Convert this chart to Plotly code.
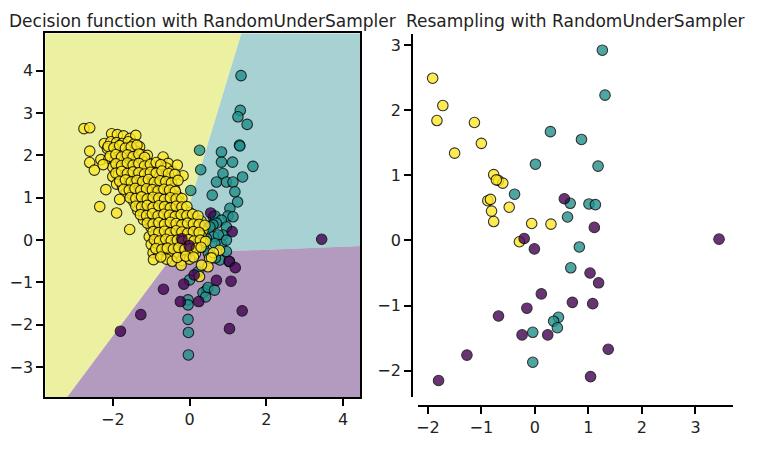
import plotly.graph_objects as go

# ---------------- data ----------------
# Left panel: original (imbalanced) data
yellow_x = [-2.75, -2.60,
            -2.03, -1.88, -1.72, -1.55, -1.40,
            -2.22, -2.05, -1.90, -1.75, -1.60, -1.45, -1.30,
            -2.60, -2.14, -2.00, -1.85, -1.70, -1.55, -1.40, -1.25, -1.10,
            -2.31, -2.60, -2.10, -1.95, -1.80, -1.65, -1.50, -1.35, -1.20, -1.05, -0.69, -0.56,
            -2.48, -2.00, -1.85, -1.70, -1.55, -1.40, -1.25, -1.10, -0.95, -0.80, -0.60, -0.45, -0.32,
            -2.00, -1.85, -1.70, -1.55, -1.40, -1.25, -1.10, -0.95, -0.80, -0.65, -0.50, -0.17,
            -1.90, -1.75, -1.60, -1.45, -1.30, -1.15, -1.00, -0.85, -0.70, -0.55, -0.40,
            -2.18, -1.65, -1.50, -1.35, -1.20, -1.05, -0.90, -0.75, -0.60, -0.45, -0.30,
            -1.82, -1.45, -1.30, -1.15, -1.00, -0.85, -0.70, -0.55, -0.40, -0.25,
            -2.34, -1.90, -1.35, -1.20, -1.05, -0.90, -0.75, -0.60, -0.45, -0.30, -0.15, 0.00,
            -1.20, -1.05, -0.90, -0.75, -0.60, -0.45, -0.30, -0.15, 0.00, 0.15, 0.30,
            -1.56, -1.00, -0.85, -0.70, -0.55, -0.40, -0.25, -0.10, 0.05, 0.20, 0.35,
            -1.05, -0.90, -0.75, -0.60, -0.45, -0.30, -0.15, 0.00, 0.15, 0.30,
            -1.00, -0.85, -0.70, -0.55, -0.40, -0.25, -0.10, 0.05, 0.20, 0.35,
            -0.95, -0.80, -0.60, -0.45, -0.30, -0.15, 0.00, 0.15, 0.52, 0.78, 0.62,
            -0.94, -0.60, -0.45, -0.20, 0.00, 0.57,
            -0.22, 0.48, 0.31,
            0.26,
            # denser core (second layer)
            -2.12, -1.97, -1.82, -1.67, -1.52, -1.37,
            -2.07, -1.92, -1.77, -1.62, -1.47, -1.32, -1.17,
            -2.25, -1.92, -1.77, -1.62, -1.47, -1.32, -1.17, -1.02, -0.87, -0.75,
            -1.92, -1.77, -1.62, -1.47, -1.32, -1.17, -1.02, -0.87, -0.72, -0.55, -0.38,
            -1.82, -1.67, -1.52, -1.37, -1.22, -1.07, -0.92, -0.77, -0.62, -0.47, -0.30,
            -1.72, -1.57, -1.42, -1.27, -1.12, -0.97, -0.82, -0.67, -0.52, -0.37,
            -1.55, -1.40, -1.25, -1.10, -0.95, -0.80, -0.65, -0.50, -0.35, -0.20,
            -1.40, -1.25, -1.10, -0.95, -0.80, -0.65, -0.50, -0.35, -0.20, -0.07,
            -1.28, -1.12, -0.97, -0.82, -0.67, -0.52, -0.37, -0.22, -0.07, 0.08, 0.22,
            -1.10, -0.95, -0.80, -0.65, -0.50, -0.35, -0.20, -0.05, 0.10, 0.25, 0.40,
            -0.95, -0.80, -0.65, -0.50, -0.35, -0.20, -0.05, 0.10, 0.25,
            -0.92, -0.78, -0.62, -0.48, -0.32, -0.18, -0.02, 0.12, 0.28, 0.42,
            -0.88, -0.72, -0.58, -0.42, -0.28, -0.12, 0.02, 0.18, 0.30,
            -0.75, -0.32, -0.10, 0.10]
yellow_y = [2.63, 2.65,
            2.51, 2.49, 2.46, 2.40, 2.47,
            2.28, 2.32, 2.30, 2.28, 2.32, 2.26, 2.20,
            2.10, 2.16, 2.10, 2.05, 2.12, 2.08, 2.10, 2.02, 2.00,
            1.90, 1.83, 1.92, 1.88, 1.90, 1.85, 1.92, 1.88, 1.85, 1.80, 1.96, 1.81,
            1.65, 1.72, 1.68, 1.70, 1.65, 1.72, 1.68, 1.62, 1.70, 1.65, 1.70, 1.62, 1.77,
            1.50, 1.55, 1.48, 1.52, 1.45, 1.50, 1.45, 1.52, 1.48, 1.50, 1.45, 1.52,
            1.32, 1.28, 1.35, 1.30, 1.25, 1.32, 1.28, 1.30, 1.25, 1.30, 1.22,
            1.19, 1.12, 1.08, 1.12, 1.05, 1.12, 1.08, 1.10, 1.05, 1.08, 1.02,
            0.96, 0.90, 0.85, 0.92, 0.88, 0.92, 0.85, 0.90, 0.85, 0.88,
            0.79, 0.64, 0.70, 0.65, 0.72, 0.68, 0.72, 0.65, 0.70, 0.66, 0.72, 0.65,
            0.48, 0.50, 0.45, 0.52, 0.48, 0.50, 0.45, 0.52, 0.48, 0.50, 0.45,
            0.25, 0.30, 0.25, 0.32, 0.28, 0.30, 0.25, 0.32, 0.28, 0.30, 0.22,
            0.08, 0.12, 0.05, 0.10, 0.05, 0.12, 0.08, 0.12, 0.05, 0.10,
            -0.10, -0.08, -0.15, -0.10, -0.12, -0.08, -0.15, -0.10, -0.08, -0.05,
            -0.30, -0.35, -0.28, -0.32, -0.30, -0.35, -0.28, -0.32, -0.43, -0.24, -0.30,
            -0.46, -0.45, -0.50, -0.48, -0.45, -0.42,
            -0.59, -0.63, -0.59,
            -0.86,
            2.21, 2.18, 2.23, 2.17, 2.20, 2.24,
            1.98, 2.02, 1.96, 2.01, 1.97, 2.03, 1.95,
            1.78, 1.80, 1.76, 1.82, 1.77, 1.81, 1.75, 1.79, 1.83, 1.78,
            1.58, 1.62, 1.57, 1.61, 1.59, 1.56, 1.60, 1.58, 1.63, 1.57, 1.55,
            1.39, 1.42, 1.37, 1.41, 1.38, 1.43, 1.36, 1.40, 1.38, 1.35, 1.41,
            1.20, 1.18, 1.22, 1.17, 1.21, 1.19, 1.16, 1.20, 1.18, 1.15,
            1.00, 0.98, 1.02, 0.97, 1.01, 0.99, 0.96, 1.00, 0.97, 0.98,
            0.80, 0.78, 0.82, 0.77, 0.81, 0.79, 0.76, 0.80, 0.78, 0.79,
            0.60, 0.58, 0.62, 0.57, 0.61, 0.59, 0.56, 0.60, 0.58, 0.61, 0.57,
            0.40, 0.38, 0.41, 0.37, 0.42, 0.39, 0.36, 0.40, 0.38, 0.37, 0.35,
            0.20, 0.18, 0.21, 0.17, 0.22, 0.19, 0.16, 0.20, 0.18,
            0.01, -0.02, 0.02, -0.01, 0.00, -0.03, 0.01, -0.02, 0.00, -0.03,
            -0.20, -0.22, -0.19, -0.21, -0.18, -0.22, -0.20, -0.19, -0.17,
            -0.40, -0.41, -0.38, -0.40]

teal_x = [1.34, 1.32, 1.26, 1.50, 1.30, 1.31, 0.26, 0.83, 0.83, 1.12, 1.65, 0.29,
          0.87, 1.38, 0.70, 0.96, 1.13, 0.03, 1.18, 0.59, 1.25, 1.05, -0.35, 1.00,
          1.13, 0.62, 0.66, 0.83, 0.57, 0.70, 0.61, 0.96, 0.36, 0.87, 0.36, 0.62,
          0.31, 0.53, 0.23, 0.44, 0.75, 0.83, 0.36, 0.66, 0.96, 0.49, 0.96, 0.79,
          1.04, 0.67, 0.22, 0.00, 0.44, 0.35, 0.42, 0.48, 0.65, -0.04, -0.04, -0.04,
          -0.03, -0.03]
teal_y = [3.88, 3.06, 2.91, 2.73, 2.24, 2.22, 2.12, 2.08, 1.84, 1.84, 1.74, 1.66,
          1.57, 1.49, 1.37, 1.37, 1.37, 1.17, 1.14, 1.06, 0.90, 0.75, 0.71, 0.57,
          0.55, 0.55, 0.57, 0.47, 0.35, 0.40, 0.36, 0.31, 0.35, 0.12, 0.08, 0.08,
          0.24, 0.31, 0.04, 0.04, 0.12, -0.10, -0.16, -0.08, 0.00, -0.31, -0.27, -0.47,
          -0.51, -0.42, -0.75, -0.94, -1.18, -1.24, -1.34, -1.12, -1.18, -1.41, -1.53, -1.87,
          -2.18, -2.71]

# minority class (kept entirely by the under-sampler, same in both panels)
purple_x = [0.55, 1.11, 3.44, -0.20, -0.01, 1.03, 1.19, 0.12, 0.70, 1.08, -0.15,
            -0.68, -0.24, 0.24, 1.37, -1.27, 1.04, -1.80]
purple_y = [0.64, 0.20, 0.02, 0.03, -0.13, -0.50, -0.65, -0.82, -0.95, -0.97, -1.04,
            -1.16, -1.45, -1.45, -1.67, -1.76, -2.09, -2.15]

# Right panel: resampled data
res_yellow_x = [-1.91, -1.72, -1.83, -1.13, -1.00, -1.50, -0.77, -0.68, -0.60, -0.72,
                -0.88, -0.83, -0.81, -0.77, -0.48, -0.06, 0.30, -0.29]
res_yellow_y = [2.49, 2.07, 1.84, 1.81, 1.49, 1.34, 1.01, 0.92, 0.88, 0.93,
                0.61, 0.63, 0.45, 0.29, 0.51, 0.26, 0.25, -0.02]
res_teal_x = [1.26, 1.31, 0.29, 0.87, 0.01, 1.18, -0.38, 0.66, 1.01, 1.13, 0.61, 0.83,
              0.67, 0.44, 0.35, 0.42, -0.04, -0.04]
res_teal_y = [2.92, 2.23, 1.67, 1.55, 1.17, 1.14, 0.71, 0.57, 0.56, 0.55, 0.36, -0.10,
              -0.42, -1.18, -1.24, -1.34, -1.41, -1.87]

# Decision boundary of the classifier
junction = (-0.39, -0.31)
bnd_yellow_teal_top = (1.35, 4.88)         # meets top edge
bnd_yellow_purple_bottom = (-3.19, -3.71)  # meets bottom edge
bnd_purple_teal_right = (4.44, -0.14)      # meets right edge

left_xrange = [-3.76, 4.44]
left_yrange = [-3.71, 4.88]
right_xrange = [-2.18, 3.71]
right_yrange = [-2.40, 3.17]

class_colors = ["#440154", "#21918c", "#fde725"]
titles = ["Decision function with RandomUnderSampler", "Resampling with RandomUnderSampler"]

# ---------------- figure ----------------
fig = go.Figure()
W, H = 769, 453

x0, x1 = left_xrange
y0, y1 = left_yrange
jx, jy = junction
regions = [
    ([x0, bnd_yellow_teal_top[0], jx, bnd_yellow_purple_bottom[0], x0],
     [y1, y1, jy, y0, y0], "rgba(230,236,130,0.75)"),
    ([bnd_yellow_teal_top[0], x1, x1, jx],
     [y1, y1, bnd_purple_teal_right[1], jy], "rgba(144,196,199,0.78)"),
    ([jx, x1, x1, bnd_yellow_purple_bottom[0]],
     [jy, bnd_purple_teal_right[1], y0, y0], "rgba(160,130,176,0.80)"),
]
for rx, ry, col in regions:
    fig.add_trace(go.Scatter(x=rx, y=ry, fill="toself", fillcolor=col, mode="lines",
                             line=dict(width=0), hoverinfo="skip", showlegend=False,
                             xaxis="x", yaxis="y"))

def pts(xs, ys, color, ax, ay):
    fig.add_trace(go.Scatter(x=xs, y=ys, mode="markers", showlegend=False,
                             marker=dict(size=10.5, color=color, opacity=0.8,
                                         line=dict(color="black", width=1.1)),
                             xaxis=ax, yaxis=ay))

pts(teal_x, teal_y, class_colors[1], "x", "y")
pts(yellow_x, yellow_y, class_colors[2], "x", "y")
pts(purple_x, purple_y, class_colors[0], "x", "y")

pts(res_yellow_x, res_yellow_y, class_colors[2], "x2", "y2")
pts(res_teal_x, res_teal_y, class_colors[1], "x2", "y2")
pts(purple_x, purple_y, class_colors[0], "x2", "y2")

tickfont = dict(family="DejaVu Sans", size=16, color="#222")
common = dict(showgrid=False, zeroline=False, ticks="outside", ticklen=7, tickwidth=1.6,
              tickcolor="black", showline=True, linecolor="black", linewidth=1.6,
              tickfont=tickfont)

L = (43.3, 359.0, 33.3, 397.3)
R = (417.3, 733.4, 33.9, 396.8)

fig.update_layout(
    width=W, height=H, margin=dict(l=0, r=0, t=0, b=0),
    paper_bgcolor="white", plot_bgcolor="rgba(0,0,0,0)",
    xaxis=dict(domain=[L[0] / W, L[1] / W], range=left_xrange, anchor="y", mirror=True,
               tickvals=[-2, 0, 2, 4], ticktext=["−2", "0", "2", "4"], **common),
    yaxis=dict(domain=[1 - L[3] / H, 1 - L[2] / H], range=left_yrange, anchor="x", mirror=True,
               tickvals=[-3, -2, -1, 0, 1, 2, 3, 4],
               ticktext=["−3", "−2", "−1", "0", "1", "2", "3", "4"], **common),
    xaxis2=dict(domain=[R[0] / W, R[1] / W], range=right_xrange, anchor="free",
                position=1 - 406 / H, tickvals=[-2, -1, 0, 1, 2, 3],
                ticktext=["−2", "−1", "0", "1", "2", "3"], **common),
    yaxis2=dict(domain=[1 - R[3] / H, 1 - R[2] / H], range=right_yrange, anchor="free",
                position=411 / W, tickvals=[-2, -1, 0, 1, 2, 3],
                ticktext=["−2", "−1", "0", "1", "2", "3"], **common),
    annotations=[
        dict(text=titles[0], x=(L[0] + L[1]) / 2 / W, y=1 - 21 / H, xref="paper", yref="paper",
             xanchor="center", yanchor="middle", showarrow=False,
             font=dict(family="DejaVu Sans", size=17, color="#222")),
        dict(text=titles[1], x=(R[0] + R[1]) / 2 / W, y=1 - 21 / H, xref="paper", yref="paper",
             xanchor="center", yanchor="middle", showarrow=False,
             font=dict(family="DejaVu Sans", size=17, color="#222")),
    ],
)

fig.write_html("out.html")
